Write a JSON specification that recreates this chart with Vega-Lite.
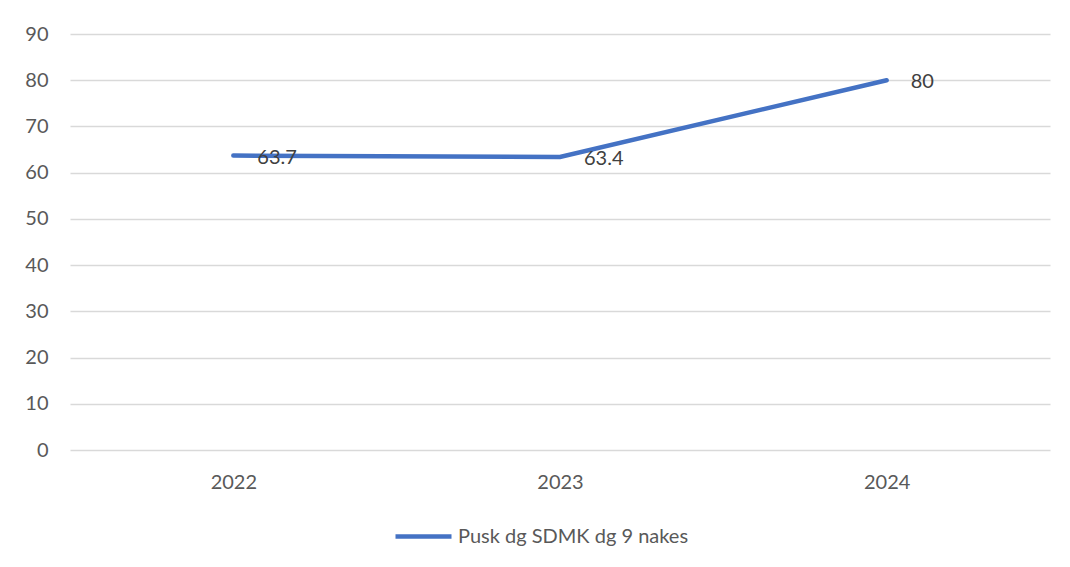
{
  "$schema": "https://vega.github.io/schema/vega-lite/v6.json",
  "autosize": "none",
  "width": 980,
  "height": 416,
  "padding": {"left": 70, "top": 34, "right": 20, "bottom": 117},
  "background": "white",
  "config": {
    "view": {"stroke": null},
    "font": "Lato",
    "axis": {"labelFont": "Lato", "labelFontSize": 20, "labelColor": "#595959", "domain": false, "ticks": false, "title": null}
  },
  "data": {"values": [
    {"year": "2022", "value": 63.7, "series": "Pusk dg SDMK dg 9 nakes"},
    {"year": "2023", "value": 63.4, "series": "Pusk dg SDMK dg 9 nakes"},
    {"year": "2024", "value": 80, "series": "Pusk dg SDMK dg 9 nakes"}
  ]},
  "encoding": {
    "x": {"field": "year", "type": "ordinal", "scale": {"type": "point", "padding": 0.5},
          "axis": {"labelAngle": 0, "labelPadding": 22, "grid": false}},
    "y": {"field": "value", "type": "quantitative", "scale": {"domain": [0, 90]},
          "axis": {"values": [0,10,20,30,40,50,60,70,80,90], "gridColor": "#d9d9d9", "gridWidth": 1.5, "labelPadding": 22}}
  },
  "layer": [
    {
      "mark": {"type": "line", "strokeWidth": 4.5, "strokeCap": "round"},
      "encoding": {
        "color": {"field": "series", "type": "nominal", "scale": {"range": ["#4472C4"]},
                  "legend": {"title": null, "orient": "none", "legendX": 323, "legendY": 472, "symbolType": "stroke", "symbolSize": 3136, "symbolStrokeWidth": 4.5, "labelFont": "Lato", "labelFontSize": 20, "labelColor": "#595959", "labelOffset": 4, "labelLimit": 400}}
      }
    },
    {
      "mark": {"type": "text", "align": "left", "baseline": "middle", "dx": 24, "dy": 2, "fontSize": 20, "font": "Lato", "color": "#404040"},
      "encoding": {"text": {"field": "value", "type": "quantitative"}}
    }
  ]
}
